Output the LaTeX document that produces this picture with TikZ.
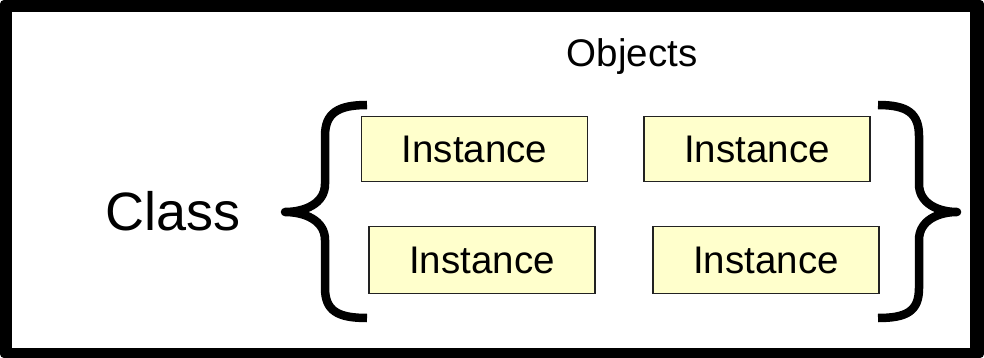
\documentclass[tikz,border=0pt]{standalone}
\usepackage{fontspec}
\setmainfont{Liberation Sans}
\definecolor{instfill}{HTML}{FFFFCC}
\definecolor{instedge}{HTML}{222222}
\tikzset{
  instbox/.style={draw=instedge, fill=instfill, line width=1.6pt,
    minimum width=226pt, minimum height=65pt, inner sep=0pt,
    text depth=0pt, font=\fontsize{38.5}{46}\selectfont},
  bracestroke/.style={line width=8.5pt, line join=round, line cap=butt},
  label/.style={inner sep=0pt, anchor=base}
}
\begin{document}
\begin{tikzpicture}[x=1pt, y=-1pt]
  \useasboundingbox (0,0) rectangle (984,358);
  % thick black frame
  \fill[black, rounded corners=4pt] (0,0) rectangle (984,358);
  \fill[white] (12,12) rectangle (970,348);

  % titles
  \node[label, font=\fontsize{38.5}{46}\selectfont] (objects) at (632,67) {Objects};
  \node[label, font=\fontsize{54}{64}\selectfont] (class) at (173,230) {Class};

  % instance boxes
  \node[instbox] (i1) at (474.5,149) {Instance};
  \node[instbox] (i2) at (757,149) {Instance};
  \node[instbox, minimum height=67pt] (i3) at (482,260) {Instance};
  \node[instbox, minimum height=67pt] (i4) at (766,260) {Instance};

  % left brace
  \draw[bracestroke] (367,105) .. controls (338,105) and (325,113) .. (325,136)
    -- (325,184) .. controls (325,204) and (304,212) .. (285,212)
    .. controls (304,212) and (325,220) .. (325,240)
    -- (325,288) .. controls (325,311) and (338,318) .. (367,318);
  % right brace
  \draw[bracestroke] (878,105) .. controls (907,105) and (919,113) .. (919,136)
    -- (919,184) .. controls (919,204) and (939,212) .. (957,212)
    .. controls (939,212) and (919,220) .. (919,240)
    -- (919,288) .. controls (919,311) and (907,318) .. (878,318);
\end{tikzpicture}
\end{document}
